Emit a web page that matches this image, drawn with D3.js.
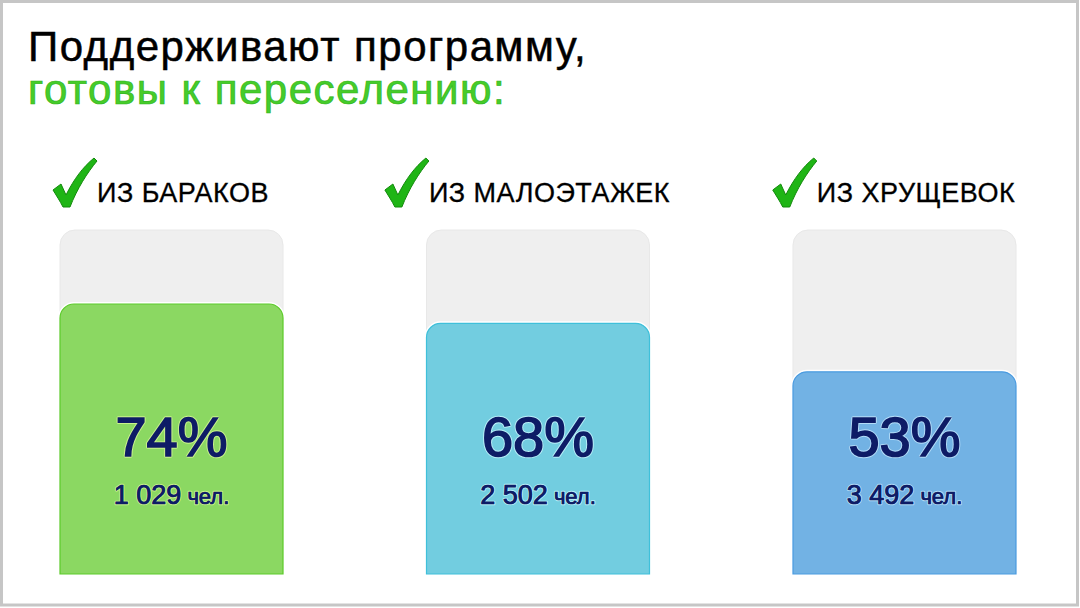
<!DOCTYPE html>
<html>
<head>
<meta charset="utf-8">
<script src="https://cdn.jsdelivr.net/npm/d3@7"></script>
<style>
  html, body { margin: 0; padding: 0; background: #fff; }
  svg { display: block; }
</style>
</head>
<body>
<svg id="chart" width="1080" height="608"></svg>
<script>
// ---- data ----
const titleLines = ["Поддерживают программу,", "готовы к переселению:"];
const categories = ["ИЗ БАРАКОВ", "ИЗ МАЛОЭТАЖЕК", "ИЗ ХРУЩЕВОК"];
const percents = [74, 68, 53];
const counts = [1029, 2502, 3492];
const unitLabel = "чел.";

// ---- styles ----
const fills = ["#8bd862", "#72cde0", "#72b2e4"];
const strokes = ["#5ccb2a", "#3fc0da", "#4a9be0"];
const halos = ["#c9f28c", "#b7eef8", "#b3dcf8"];
const navy = "#0e1c66";

const W = 1080, H = 608;
const svg = d3.select("#chart");

// frame
svg.append("rect").attr("x", 1.5).attr("y", 1.5).attr("width", W - 4).attr("height", H - 4.5)
  .attr("fill", "#fff").attr("stroke", "#c6c6c6").attr("stroke-width", 3);

// title
const font = "Liberation Sans, Arial, sans-serif";
svg.append("text").attr("x", 28).attr("y", 61)
  .attr("font-family", font).attr("font-size", 42).attr("letter-spacing", 1.5)
  .attr("fill", "#000").attr("stroke", "#000").attr("stroke-width", 0.5)
  .text(titleLines[0]);
svg.append("text").attr("x", 28).attr("y", 104)
  .attr("font-family", font).attr("font-size", 42).attr("letter-spacing", 1.5)
  .attr("fill", "#46cc2a").attr("stroke", "#2fb51c").attr("stroke-width", 0.7)
  .text(titleLines[1]);

// scales
const x = d3.scaleBand().domain(categories).range([60, 1016]).paddingInner(0.3915).paddingOuter(0);
const y = d3.scaleLinear().domain([0, 100]).range([543, 220]);
const baseY = 574, bgTop = 230, r = 14;

function topRounded(x0, x1, yt, yb, rad) {
  const p = d3.path();
  p.moveTo(x0, yb);
  p.lineTo(x0, yt + rad);
  p.arcTo(x0, yt, x0 + rad, yt, rad);
  p.lineTo(x1 - rad, yt);
  p.arcTo(x1, yt, x1, yt + rad, rad);
  p.lineTo(x1, yb);
  p.closePath();
  return p.toString();
}

const fmt = d3.formatLocale({ decimal: ",", thousands: " ", grouping: [3], currency: ["", ""] }).format(",d");

const groups = svg.selectAll("g.col").data(categories).join("g").attr("class", "col");

groups.each(function (cat, i) {
  const g = d3.select(this);
  const x0 = x(cat), x1 = x0 + x.bandwidth(), cx = x0 + x.bandwidth() / 2;

  // background track
  g.append("rect").attr("x", x0).attr("y", bgTop).attr("width", x.bandwidth()).attr("height", baseY - bgTop)
    .attr("rx", 15).attr("fill", "#efefef").attr("stroke", "#e8e8e8").attr("stroke-width", 1);

  // bar
  const yt = y(percents[i]);
  g.append("path").attr("d", topRounded(x0, x1, yt, baseY, r))
    .attr("fill", "none").attr("stroke", "#fff").attr("stroke-width", 4);
  g.append("path").attr("d", topRounded(x0, x1, yt, baseY, r))
    .attr("fill", fills[i]).attr("stroke", strokes[i]).attr("stroke-width", 1.2);

  // percent label
  g.append("text").attr("x", cx).attr("y", 456).attr("text-anchor", "middle")
    .attr("font-family", font).attr("font-size", 56)
    .attr("fill", navy).attr("stroke", halos[i]).attr("stroke-width", 3.5)
    .attr("paint-order", "stroke").attr("stroke-linejoin", "round")
    .text(percents[i] + "%");
  g.append("text").attr("x", cx).attr("y", 456).attr("text-anchor", "middle")
    .attr("font-family", font).attr("font-size", 56)
    .attr("fill", navy).attr("stroke", navy).attr("stroke-width", 1.6)
    .text(percents[i] + "%");

  // count label
  const ct = g.append("text").attr("x", cx).attr("y", 504).attr("text-anchor", "middle")
    .attr("font-family", font)
    .attr("fill", navy).attr("stroke", halos[i]).attr("stroke-width", 2.5)
    .attr("paint-order", "stroke").attr("stroke-linejoin", "round");
  ct.append("tspan").attr("font-size", 27).text(fmt(counts[i]));
  ct.append("tspan").attr("font-size", 22).text(" " + unitLabel);
  const ct2 = g.append("text").attr("x", cx).attr("y", 504).attr("text-anchor", "middle")
    .attr("font-family", font).attr("fill", navy).attr("stroke", navy).attr("stroke-width", 0.7);
  ct2.append("tspan").attr("font-size", 27).text(fmt(counts[i]));
  ct2.append("tspan").attr("font-size", 22).text(" " + unitLabel);

  // category label with checkmark
  const lbl = g.append("text").attr("y", 202)
    .attr("font-family", font).attr("font-size", 27).attr("letter-spacing", 0.5)
    .attr("fill", "#000").attr("stroke", "#000").attr("stroke-width", 0.3)
    .text(cat);
  const tw = lbl.node().getComputedTextLength();
  const checkW = 45;
  const groupW = checkW + tw;
  const gx = cx - 11 - groupW / 2;
  lbl.attr("x", gx + checkW);
  // checkmark icon (local coords, origin at top-left of icon box)
  g.append("path")
    .attr("transform", `translate(${gx},158)`)
    .attr("d", "M1,32 L9,26 L14,37 C22,21 31,9 42,0 L45,3 C35,15 25,31 18,49 L11,49 C8,43 4,37 1,32 Z")
    .attr("fill", "#1fb515").attr("stroke", "#138a0c").attr("stroke-width", 1).attr("stroke-linejoin", "round");
});
</script>
</body>
</html>
